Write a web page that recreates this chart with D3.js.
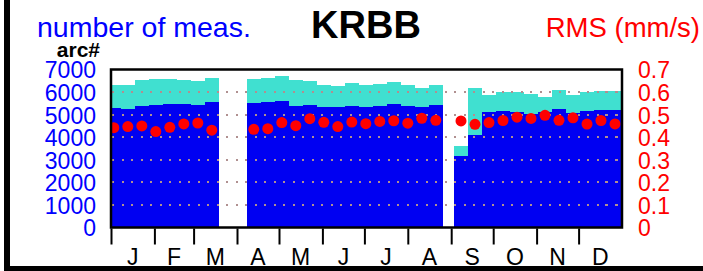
<!DOCTYPE html>
<html>
<head>
<meta charset="utf-8">
<script src="https://cdn.jsdelivr.net/npm/d3@7"></script>
<style>
  html, body { margin: 0; padding: 0; background: #fff; }
  svg { display: block; }
  text { font-family: "Liberation Sans", Arial, Helvetica, sans-serif; }
</style>
</head>
<body>
<svg id="chart" width="703" height="271"></svg>
<script>
// ---- data ----
// centre of each 10-day bin, as day of year (0 = 1 Jan)
const binDays = [2, 12, 22, 32, 42, 52, 62, 72,
  102, 112, 122, 132, 142, 152, 162, 172, 182, 192, 202, 212, 222, 232,
  250, 260, 270, 280, 290, 300, 310, 320, 330, 340, 350, 360];
// number of measurements (turquoise)
const measCount = [6325, 6295, 6545, 6560, 6590, 6545, 6490, 6635,
  6570, 6635, 6710, 6530, 6470, 6310, 6280, 6385, 6295, 6355, 6430, 6310, 6190, 6325,
  3620, 6160, 5880, 5990, 6000, 5930, 5790, 6095, 5890, 6000, 6030, 6030];
// number of arcs (blue)
const arcCount = [5290, 5260, 5365, 5440, 5470, 5455, 5410, 5540,
  5510, 5555, 5600, 5365, 5440, 5335, 5320, 5395, 5350, 5395, 5485, 5365, 5335, 5425,
  3150, 4115, 5115, 5170, 5115, 5025, 5115, 5245, 5070, 5170, 5215, 5190];
// RMS (mm/s), red dots
const rmsValues = [0.442, 0.447, 0.450, 0.425, 0.444, 0.459, 0.463, 0.431,
  0.435, 0.438, 0.465, 0.451, 0.482, 0.466, 0.447, 0.467, 0.460, 0.470, 0.473, 0.462, 0.484, 0.475,
  0.472, 0.457, 0.465, 0.474, 0.489, 0.483, 0.497, 0.475, 0.486, 0.458, 0.474, 0.459];
const monthLabels = ["J", "F", "M", "A", "M", "J", "J", "A", "S", "O", "N", "D"];
const leftTicks = [0, 1000, 2000, 3000, 4000, 5000, 6000, 7000];
const rightTicks = [0, 0.1, 0.2, 0.3, 0.4, 0.5, 0.6, 0.7];
const binWidthDays = 10;

// ---- layout ----
const svg = d3.select("#chart");
const plot = { left: 111, right: 622, top: 69.5, bottom: 227.5 };
const year0 = new Date(2001, 0, 1), year1 = new Date(2002, 0, 1);
const x = d3.scaleTime().domain([year0, year1]).range([plot.left, plot.right]);
const yL = d3.scaleLinear().domain([0, 7000]).range([plot.bottom, plot.top]);
const yR = d3.scaleLinear().domain([0, 0.7]).range([plot.bottom, plot.top]);
const dayDate = d => d3.timeDay.offset(year0, d);

const data = binDays.map((d, i) => ({ day: d, meas: measCount[i], arcs: arcCount[i], rms: rmsValues[i] }));

svg.append("defs").append("clipPath").attr("id", "clip")
  .append("rect").attr("x", plot.left).attr("y", plot.top)
  .attr("width", plot.right - plot.left).attr("height", plot.bottom - plot.top);

const g = svg.append("g").attr("clip-path", "url(#clip)");

const bx0 = d => Math.round(x(dayDate(d.day - binWidthDays / 2)));
const bx1 = d => Math.round(x(dayDate(d.day + binWidthDays / 2)));

// turquoise bars (measurements)
g.selectAll("rect.meas").data(data).join("rect").attr("class", "meas")
  .attr("x", bx0)
  .attr("width", d => bx1(d) - bx0(d))
  .attr("y", d => yL(d.meas))
  .attr("height", d => yL(0) - yL(d.meas))
  .attr("fill", "#40e0d0")
  .attr("shape-rendering", "crispEdges");

// blue bars (arcs)
g.selectAll("rect.arcs").data(data).join("rect").attr("class", "arcs")
  .attr("x", bx0)
  .attr("width", d => bx1(d) - bx0(d))
  .attr("y", d => yL(d.arcs))
  .attr("height", d => yL(0) - yL(d.arcs))
  .attr("fill", "#0000f2")
  .attr("shape-rendering", "crispEdges");

// dotted grid lines
const gridVals = leftTicks.filter(t => t > 0 && t < 7000);
g.selectAll("line.grid").data(gridVals).join("line")
  .attr("class", "grid")
  .attr("x1", plot.left).attr("x2", plot.right)
  .attr("y1", d => Math.round(yL(d))).attr("y2", d => Math.round(yL(d)))
  .attr("stroke", "#b09090").attr("stroke-width", 2)
  .attr("stroke-dasharray", "2,7.5").attr("stroke-dashoffset", -1)
  .attr("shape-rendering", "crispEdges");
g.selectAll("line.grid2").data(gridVals).join("line")
  .attr("class", "grid2")
  .attr("x1", 605).attr("x2", plot.right)
  .attr("y1", d => Math.round(yL(d))).attr("y2", d => Math.round(yL(d)))
  .attr("stroke", "#b09090").attr("stroke-width", 2)
  .attr("stroke-dasharray", "2,7.5")
  .attr("shape-rendering", "crispEdges");

// RMS dots
g.selectAll("circle.rms").data(data).join("circle").attr("class", "rms")
  .attr("cx", d => x(dayDate(d.day)))
  .attr("cy", d => yR(d.rms))
  .attr("r", 5.5)
  .attr("fill", "#ff0000");

// plot frame
svg.append("rect")
  .attr("x", plot.left).attr("y", plot.top)
  .attr("width", plot.right - plot.left).attr("height", plot.bottom - plot.top)
  .attr("fill", "none").attr("stroke", "#000").attr("stroke-width", 2.5);

// x axis: month ticks below the frame
const months = d3.timeMonth.range(year0, year1);
const xAxis = d3.axisBottom(x).tickValues(months).tickSize(16).tickFormat("");
const xa = svg.append("g").attr("transform", `translate(0,${plot.bottom + 1})`).call(xAxis);
xa.select(".domain").remove();
xa.selectAll(".tick line").attr("stroke", "#000").attr("stroke-width", 2);

svg.append("g").selectAll("text").data(months).join("text")
  .attr("x", d => x(new Date(+d + (d3.timeMonth.offset(d, 1) - d) / 2)))
  .attr("y", 265)
  .attr("text-anchor", "middle")
  .attr("font-size", 23)
  .attr("fill", "#000")
  .text((d, i) => monthLabels[i]);

// left axis labels
const yAxisL = d3.axisLeft(yL).tickValues(leftTicks).tickSize(0).tickPadding(0).tickFormat(d3.format("d"));
const la = svg.append("g").attr("transform", "translate(96,1)").call(yAxisL);
la.select(".domain").remove();
la.selectAll("text").attr("fill", "#0000ff").attr("font-size", 23)
  .attr("font-family", "Liberation Sans, Arial, sans-serif");

// right axis labels
const yAxisR = d3.axisRight(yR).tickValues(rightTicks).tickSize(0).tickPadding(0)
  .tickFormat(d => d === 0 ? "0" : d3.format(".1f")(d));
const ra = svg.append("g").attr("transform", "translate(638,1)").call(yAxisR);
ra.select(".domain").remove();
ra.selectAll("text").attr("fill", "#ff0000").attr("font-size", 23)
  .attr("font-family", "Liberation Sans, Arial, sans-serif");

// titles
svg.append("text").attr("x", 37).attr("y", 37).attr("font-size", 28.5)
  .attr("fill", "#0000ff").text("number of meas.");
svg.append("text").attr("x", 366).attr("y", 38).attr("text-anchor", "middle")
  .attr("font-size", 38).attr("font-weight", "bold").attr("fill", "#000").text("KRBB");
svg.append("text").attr("x", 700).attr("y", 37).attr("text-anchor", "end")
  .attr("font-size", 27.5).attr("fill", "#ff0000").text("RMS (mm/s)");
svg.append("text").attr("x", 100).attr("y", 57).attr("text-anchor", "end")
  .attr("font-size", 21).attr("font-weight", "bold").attr("fill", "#000").text("arc#");

// outer frame (left and bottom)
svg.append("rect").attr("x", 4).attr("y", 0).attr("width", 6).attr("height", 271).attr("fill", "#000");
svg.append("rect").attr("x", 4).attr("y", 266).attr("width", 699).attr("height", 5).attr("fill", "#000");
</script>
</body>
</html>
